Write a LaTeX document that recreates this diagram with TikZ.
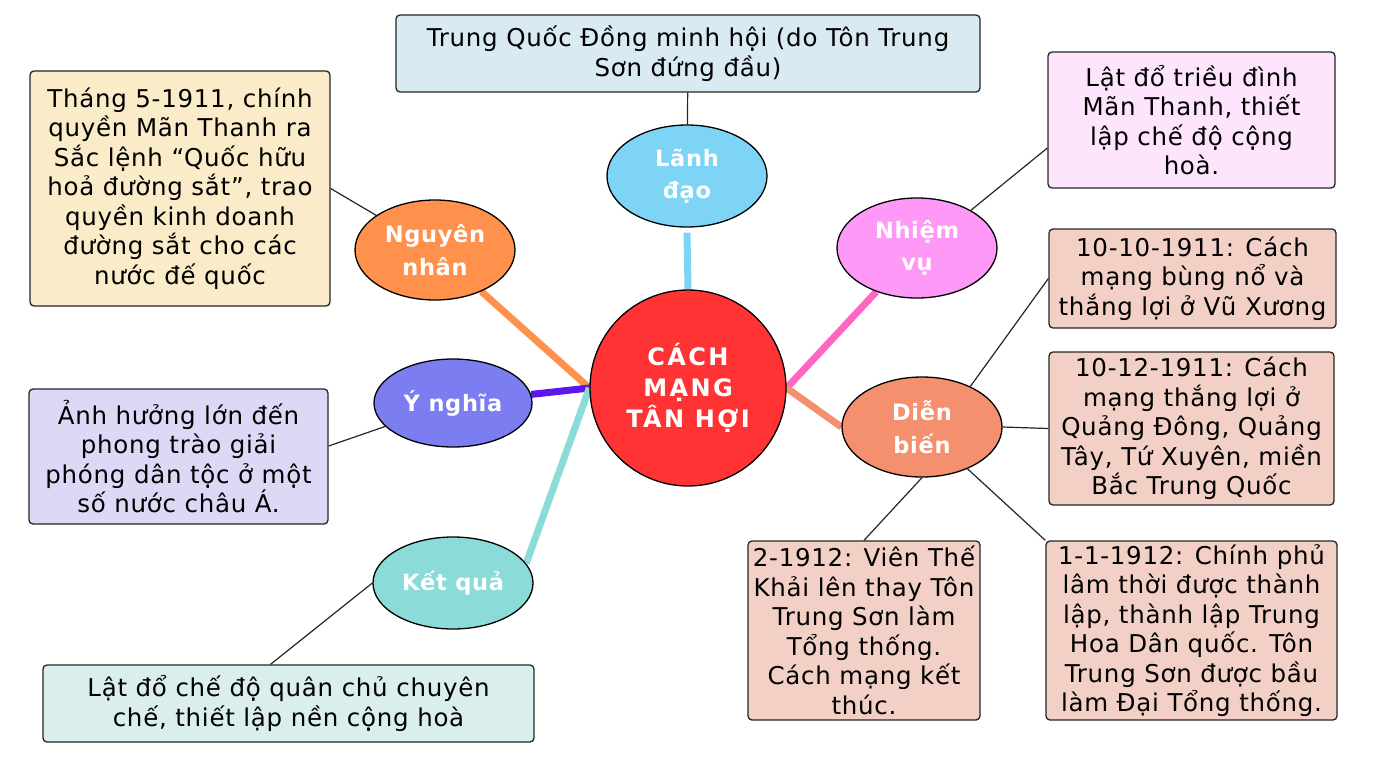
\documentclass[tikz,border=0pt]{standalone}
\usepackage{fontspec}
\setmainfont{DejaVu Sans}[LetterSpace=3]
\newfontfamily\hubfont{DejaVu Sans}[LetterSpace=10]
\usetikzlibrary{shapes.geometric,backgrounds}

\definecolor{hubred}{HTML}{FF3333}
\definecolor{ldblue}{HTML}{7DD4F5}
\definecolor{ngorange}{HTML}{FF914D}
\definecolor{ynviolet}{HTML}{7B7DF0}
\definecolor{yndark}{HTML}{5E17EB}
\definecolor{kqteal}{HTML}{8BDBD9}
\definecolor{nvpink}{HTML}{FF99F7}
\definecolor{nvdark}{HTML}{FF66C4}
\definecolor{dbsalmon}{HTML}{F4906D}
\definecolor{topfill}{HTML}{DAEAF2}
\definecolor{causefill}{HTML}{FAEBC9}
\definecolor{sigfill}{HTML}{DCD9F7}
\definecolor{resfill}{HTML}{DAEEEE}
\definecolor{taskfill}{HTML}{FDE6FD}
\definecolor{evfill}{HTML}{F2D0C6}

\begin{document}
\begin{tikzpicture}[x=1pt,y=-1pt,
    card/.style={draw=black!85, line width=1.3pt, rounded corners=4pt, inner sep=0pt, align=center, font=\fontsize{24.5}{29.5}\selectfont},
    topic/.style={draw=black, line width=1.3pt, ellipse, minimum width=160pt, minimum height=100pt, inner sep=0pt, align=center, text=white, font=\bfseries\fontsize{22.5}{32.5}\selectfont},
    branch/.style={line width=7pt},
    link/.style={draw=black!85, line width=1.2pt}]
    \useasboundingbox (0,0) rectangle (1376,774);

    % Centre
    \node[circle, draw=black, line width=1.3pt, fill=hubred, minimum size=196pt, inner sep=0pt, align=center, text=white, font=\hubfont\bfseries\fontsize{24}{31}\selectfont] (hub) at (688,388) {CÁCH\\MẠNG\\TÂN HỢI};

    % Topics
    \node[topic, fill=ldblue, minimum height=102pt] (ld) at (687,176) {Lãnh\\đạo};
    \node[topic, fill=ngorange] (ngn) at (435,250) {Nguyên\\nhân};
    \node[topic, fill=ynviolet, minimum width=158pt, minimum height=88pt] (yn) at (453,403) {Ý nghĩa};
    \node[topic, fill=kqteal, minimum height=92pt] (kq) at (453,583) {Kết quả};
    \node[topic, fill=nvpink] (nv) at (917,248) {Nhiệm\\vụ};
    \node[topic, fill=dbsalmon] (db) at (922,427) {Diễn\\biến};

    % Cards
    \node[card, fill=topfill, minimum width=584pt, minimum height=77pt] (top) at (688,53.5) {Trung Quốc Đồng minh hội (do Tôn Trung\\Sơn đứng đầu)};
    \node[card, fill=causefill, minimum width=300pt, minimum height=235pt] (cause) at (180,188.5) {Tháng 5-1911, chính\\quyền Mãn Thanh ra\\Sắc lệnh “Quốc hữu\\hoả đường sắt”, trao\\quyền kinh doanh\\đường sắt cho các\\nước đế quốc};
    \node[card, fill=sigfill, minimum width=299pt, minimum height=135pt] (sig) at (178.5,456.5) {Ảnh hưởng lớn đến\\phong trào giải\\phóng dân tộc ở một\\số nước châu Á.};
    \node[card, fill=resfill, minimum width=491pt, minimum height=77pt] (res) at (288.5,703.5) {Lật đổ chế độ quân chủ chuyên\\chế, thiết lập nền cộng hoà};
    \node[card, fill=taskfill, minimum width=287pt, minimum height=136pt] (task) at (1191.5,120) {Lật đổ triều đình\\Mãn Thanh, thiết\\lập chế độ cộng\\hoà.};
    \node[card, fill=evfill, minimum width=287pt, minimum height=99pt] (ev1) at (1192.5,278.5) {10-10-1911: Cách\\mạng bùng nổ và\\thắng lợi ở Vũ Xương};
    \node[card, fill=evfill, minimum width=285pt, minimum height=153pt] (ev2) at (1191.5,428.5) {10-12-1911: Cách\\mạng thắng lợi ở\\Quảng Đông, Quảng\\Tây, Tứ Xuyên, miền\\Bắc Trung Quốc};
    \node[card, fill=evfill, minimum width=291pt, minimum height=179pt] (ev3) at (1191.5,630.5) {1-1-1912: Chính phủ\\lâm thời được thành\\lập, thành lập Trung\\Hoa Dân quốc. Tôn\\Trung Sơn được bầu\\làm Đại Tổng thống.};
    \node[card, fill=evfill, minimum width=232pt, minimum height=179pt] (ev4) at (864,630.5) {2-1912: Viên Thế\\Khải lên thay Tôn\\Trung Sơn làm\\Tổng thống.\\Cách mạng kết\\thúc.};

    \begin{scope}[on background layer]
        \fill[white] (0,0) rectangle (1376,774);

        % Branches
        \draw[branch, ldblue] ([yshift=-5pt]ld.south) -- (hub.north);
        \draw[branch, ngorange] (ngn) -- (hub.west);
        \draw[branch, yndark] (yn) -- (hub.west);
        \draw[branch, kqteal] (kq.15) -- (hub.west);
        \draw[branch, nvdark] (nv) -- (hub.east);
        \draw[branch, dbsalmon] (hub.east) -- (db.west);

        % Links
        \draw[link] (top) -- (ld);
        \draw[link] (cause.east) -- (ngn);
        \draw[link] (sig.4) -- (yn);
        \draw[link] ([xshift=-18pt]res.north) -- (kq.west);
        \draw[link] ([yshift=-28pt]task.west) -- (nv.35);
        \draw[link] (ev1.west) -- (db.40);
        \draw[link] (ev2.west) -- (db.east);
        \draw[link] (ev3.north west) -- (db);
        \draw[link] (ev4.north) -- (db.south);
    \end{scope}

\end{tikzpicture}
\end{document}
